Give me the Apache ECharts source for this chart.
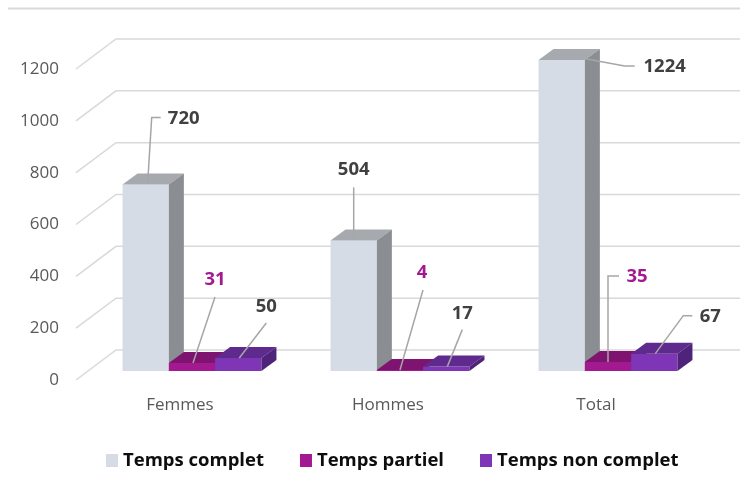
<!DOCTYPE html>
<html><head><meta charset="utf-8">
<script src="https://cdn.jsdelivr.net/npm/echarts@6/dist/echarts.min.js"></script>
<style>html,body{margin:0;padding:0;background:#fff}#c{width:740px;height:480px}</style>
</head><body><div id="c"></div>
<script>
// ---- data ----
const categories = ['Femmes', 'Hommes', 'Total'];
const seriesNames = ['Temps complet', 'Temps partiel', 'Temps non complet'];
const tempsComplet = [720, 504, 1224];
const tempsPartiel = [31, 4, 35];
const tempsNonComplet = [50, 17, 67];
const yTicks = [0, 200, 400, 600, 800, 1000, 1200];
const Y_MIN = 0, Y_MAX = 1200, Y_INTERVAL = 200;

// ---- style / geometry constants ----
const FONT = '"Open Sans", Lato, sans-serif';
const BAR_FRAC = 46.3 / 208;          // bar width as share of category band
const FRONT_DX = 12, FRONT_DY = -9;   // bar front plane offset from axis plane
const BD_X = 15, BD_Y = -11;          // bar depth
const WALL_DX = 40, WALL_DY = -30;    // back wall depth
const faces = [
  {front: '#D6DCE5', top: '#A6A9AD', side: '#8A8D91', label: '#404040'},
  {front: '#A3198F', top: '#7E1470', side: '#6A105E', label: '#A3198F'},
  {front: '#7E36B6', top: '#5F2A8E', side: '#4E2379', label: '#404040'}
];
// label leader layout relative to bar front-top centre: [series][category]
const labelLayout = [
  [ {pts: [[2, -2], [6, -67], [15, -67]], text: [38, -66]},
    {pts: [[0, -2], [0, -53]], text: [0, -71]},
    {pts: [[25, -1], [63, 6], [73, 6]], text: [103, 7]} ],
  [ {pts: [[1, 0], [23, -66]], text: [23, -83]},
    {pts: [[0, 0], [23, -80]], text: [22, -97]},
    {pts: [[0, 0], [0, -86], [11, -86]], text: [29, -85]} ],
  [ {pts: [[1, 0], [28, -35]], text: [28, -51]},
    {pts: [[1, 0], [16, -37]], text: [16, -53]},
    {pts: [[1, 0], [29, -38], [38, -38]], text: [56, -37]} ]
];

const seriesValues = [tempsComplet, tempsPartiel, tempsNonComplet];

function barRender(sIdx) {
  return function (params, api) {
    const ci = api.value(0), v = api.value(1);
    const base = api.coord([ci, 0]);
    const topP = api.coord([ci, Math.min(v, Y_MAX)]);
    const band = api.size([1, 0])[0];
    const w = band * BAR_FRAC;
    const cx = base[0] + FRONT_DX + (sIdx - 1) * w;
    const x0 = cx - w / 2, x1 = cx + w / 2;
    const yb = base[1] + FRONT_DY, yt = topP[1] + FRONT_DY;
    const f = faces[sIdx];
    const lay = labelLayout[sIdx][ci];
    const children = [
      {type: 'polygon', shape: {points: [[x0, yb], [x1, yb], [x1, yt], [x0, yt]]}, style: {fill: f.front}},
      {type: 'polygon', shape: {points: [[x0, yt], [x1, yt], [x1 + BD_X, yt + BD_Y], [x0 + BD_X, yt + BD_Y]]}, style: {fill: f.top}},
      {type: 'polygon', shape: {points: [[x1, yb], [x1 + BD_X, yb + BD_Y], [x1 + BD_X, yt + BD_Y], [x1, yt]]}, style: {fill: f.side}},
      {type: 'polyline', z2: 10, shape: {points: lay.pts.map(p => [cx + p[0], yt + p[1]])},
        style: {stroke: '#A6A6A6', lineWidth: 1.5, fill: null}},
      {type: 'text', z2: 11, style: {text: String(v), x: cx + lay.text[0], y: yt + lay.text[1],
        align: 'center', verticalAlign: 'middle', font: 'bold 18.5px ' + FONT, fill: f.label}}
    ];
    return {type: 'group', children: children};
  };
}

function gridRender(params, api) {
  const v = api.value(1);
  const p = api.coord([0, v]);
  const r = params.coordSys;
  const y = p[1];
  return {type: 'polyline', shape: {points: [[r.x, y], [r.x + WALL_DX, y + WALL_DY], [r.x + r.width + WALL_DX, y + WALL_DY]]},
    style: {stroke: '#D9D9D9', lineWidth: 1.5, fill: null}};
}

const chart = echarts.init(document.getElementById('c'));
const series = [{
  type: 'custom', name: '_grid', silent: true, z: 1,
  renderItem: gridRender,
  data: yTicks.map(t => [0, t]), encode: {x: 0, y: 1}
}];
seriesNames.forEach((n, i) => {
  series.push({
    type: 'custom', name: n, z: 2 + i,
    itemStyle: {color: faces[i].front},
    renderItem: barRender(i),
    data: seriesValues[i].map((v, ci) => [ci, v]), encode: {x: 0, y: 1}
  });
});

chart.setOption({
  animation: false,
  backgroundColor: '#fff',
  grid: {left: 76, right: 40, top: 69, bottom: 100},
  xAxis: {type: 'category', data: categories,
    axisLine: {show: false}, axisTick: {show: false}, splitLine: {show: false},
    axisLabel: {color: '#595959', fontSize: 17, fontFamily: FONT, margin: 17}},
  yAxis: {type: 'value', min: Y_MIN, max: Y_MAX, interval: Y_INTERVAL,
    axisLine: {show: false}, axisTick: {show: false}, splitLine: {show: false},
    axisLabel: {color: '#595959', fontSize: 17, fontFamily: FONT, margin: 17, formatter: v => String(v)}},
  legend: {data: seriesNames, left: 101, top: 446, icon: 'rect', itemWidth: 12, itemHeight: 13, itemGap: 36,
    textStyle: {fontSize: 18.5, fontWeight: 'bold', color: '#0D0D0D', fontFamily: FONT}},
  graphic: [{type: 'line', shape: {x1: 8, y1: 8.5, x2: 740, y2: 8.5}, style: {stroke: '#D9D9D9', lineWidth: 2}, silent: true}],
  series: series
});
</script>
</body></html>
